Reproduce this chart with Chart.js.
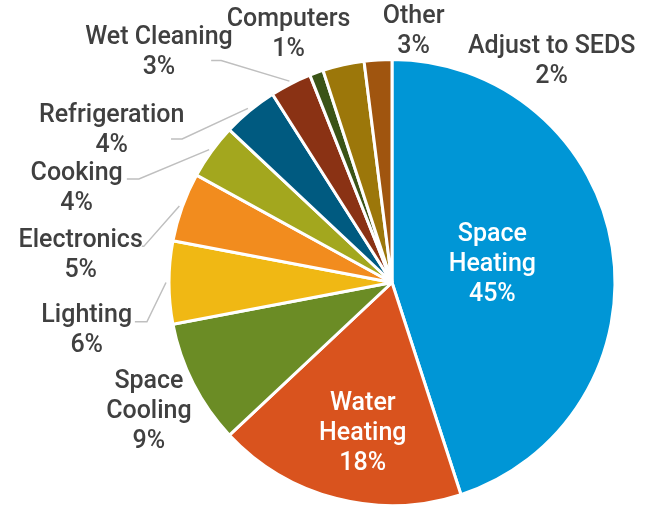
<!DOCTYPE html>
<html lang="en">

<head>
    <meta charset="UTF-8">
    <title>Energy use by end use</title>
    <script src="https://cdn.jsdelivr.net/npm/chart.js"></script>
    <style>
        body { margin: 0; background: #fff; }
    </style>
</head>

<body>
    <canvas id="chart1" width="650" height="507"></canvas>

    <script>
        // datos del gráfico
        const categories = ['Space Heating', 'Water Heating', 'Space Cooling', 'Lighting', 'Electronics',
            'Cooking', 'Refrigeration', 'Wet Cleaning', 'Computers', 'Other', 'Adjust to SEDS'];
        const values = [45, 18, 9, 6, 5, 4, 4, 3, 1, 3, 2];
        const colors = ['#0096d6', '#d9531e', '#6b8c25', '#f0b814', '#f28c1e', '#a3a71e',
            '#005a80', '#8a3214', '#3b5417', '#9c770a', '#a0550f'];

        // posición de las etiquetas (en radios, desde el centro)
        const labelLayout = [
            { dx: 0.45, dy: -0.08, inside: true, wrap: true },
            { dx: -0.131, dy: 0.68, inside: true, wrap: true },
            { dx: -1.09, dy: 0.58, wrap: true },
            { dx: -1.369, dy: 0.215, leader: [-1.099, 0.176, -1.153] },
            { dx: -1.396, dy: -0.12, leader: [-1.113, -0.162, -1.122] },
            { dx: -1.414, dy: -0.42, leader: [-1.135, -0.464, -1.189] },
            { dx: -1.257, dy: -0.68, leader: [-0.941, -0.644, -0.991] },
            { dx: -1.045, dy: -1.03, leader: [-0.766, -0.995, -0.811] },
            { dx: -0.464, dy: -1.11 },
            { dx: 0.097, dy: -1.125 },
            { dx: 0.716, dy: -0.99 }
        ];

        const sliceLabels = {
            id: 'sliceLabels',
            afterDatasetsDraw(chart) {
                const ctx = chart.ctx;
                const meta = chart.getDatasetMeta(0);
                ctx.save();
                ctx.font = '500 25px Roboto';
                ctx.textAlign = 'center';
                ctx.textBaseline = 'middle';
                meta.data.forEach((arc, i) => {
                    const p = arc.getProps(['x', 'y', 'startAngle', 'endAngle', 'outerRadius'], true);
                    const R = p.outerRadius;
                    const mid = (p.startAngle + p.endAngle) / 2;
                    const lay = labelLayout[i];

                    // línea guía
                    if (lay.leader) {
                        const [ex, ey, endx] = lay.leader;
                        ctx.beginPath();
                        ctx.moveTo(p.x + Math.cos(mid) * (R + 3), p.y + Math.sin(mid) * (R + 3));
                        ctx.lineTo(p.x + ex * R, p.y + ey * R);
                        ctx.lineTo(p.x + endx * R, p.y + ey * R);
                        ctx.strokeStyle = '#bfbfbf';
                        ctx.lineWidth = 1.5;
                        ctx.stroke();
                    }

                    const lines = lay.wrap ? categories[i].split(' ') : [categories[i]];
                    lines.push(values[i] + '%');
                    const lh = 30;
                    const tx = p.x + lay.dx * R;
                    const ty = p.y + lay.dy * R - (lines.length - 1) * lh / 2;
                    ctx.fillStyle = lay.inside ? '#ffffff' : '#404040';
                    lines.forEach((t, k) => ctx.fillText(t, tx, ty + k * lh));
                });
                ctx.restore();
            }
        };

        const ctx1 = document.getElementById('chart1').getContext('2d');
        new Chart(ctx1, {
            type: 'pie',
            data: {
                labels: categories,
                datasets: [{
                    data: values,
                    backgroundColor: colors,
                    borderColor: '#ffffff',
                    borderWidth: 3
                }]
            },
            options: {
                responsive: false,
                animation: false,
                layout: {
                    padding: { left: 167, right: 33, top: 58, bottom: 0 }
                },
                plugins: {
                    legend: { display: false },
                    tooltip: { enabled: false }
                }
            },
            plugins: [sliceLabels]
        });
    </script>
</body>

</html>
